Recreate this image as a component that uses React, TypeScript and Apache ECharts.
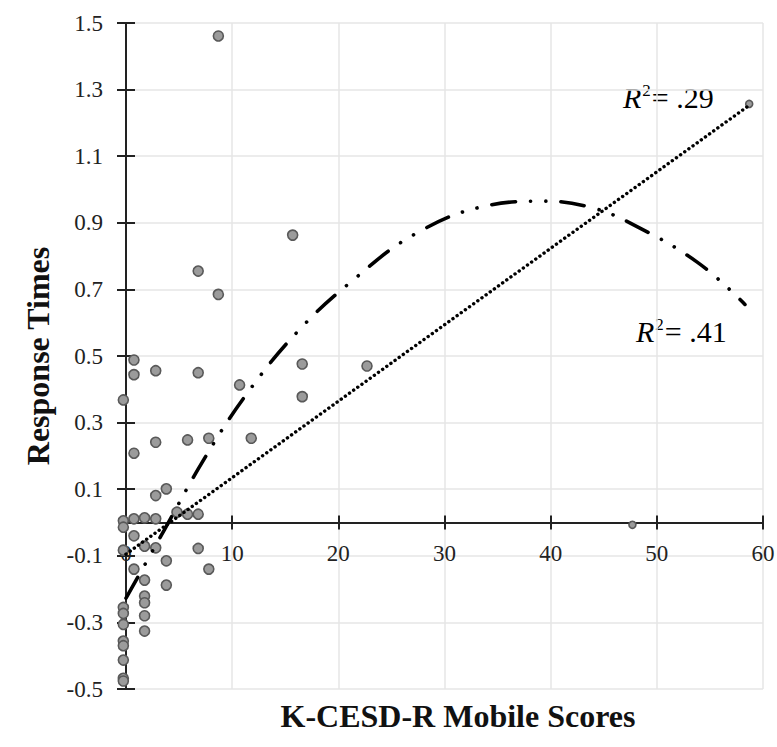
import React, { useEffect, useRef } from "react";
import * as echarts from "echarts";

// Scatter points: K-CESD-R mobile scores (x) vs response times (y)
const scoreX = [
  -0.25, -0.25, -0.25, -0.25, -0.25, -0.25, -0.25, -0.25, -0.25, -0.25, -0.25, -0.25,
  0.75, 0.75, 0.75, 0.75, 0.75, 0.75,
  1.75, 1.75, 1.75, 1.75, 1.75, 1.75, 1.75,
  2.8, 2.8, 2.8, 2.8, 2.8,
  3.8, 3.8, 3.8,
  4.8,
  5.8, 5.8,
  6.8, 6.8, 6.8, 6.8,
  7.8, 7.8,
  8.7, 8.7,
  10.7, 11.8, 15.7, 16.6, 16.6, 22.7, 47.7, 58.7,
];
const responseY = [
  0.368, 0.005, -0.014, -0.083, -0.255, -0.273, -0.306, -0.356, -0.37, -0.413, -0.468, -0.476,
  0.488, 0.444, 0.208, 0.011, -0.04, -0.14,
  0.014, -0.071, -0.173, -0.221, -0.241, -0.28, -0.326,
  0.456, 0.241, 0.081, 0.011, -0.076,
  0.101, -0.115, -0.188,
  0.031,
  0.248, 0.025,
  0.755, 0.45, 0.025, -0.078,
  0.253, -0.14,
  1.461, 0.685,
  0.413, 0.253, 0.863, 0.476, 0.378, 0.47, -0.007, 1.257,
];

// Linear trend
const linearX = [0, 58.8];
const linearY = [-0.095, 1.255];

// Quadratic trend
const quadX = [0, 3.6, 7.2, 11.3, 16.3, 21.5, 27.2, 33.8, 39.4, 43.7, 47.5, 53.8, 58.3];
const quadY = [-0.227, -0.023, 0.182, 0.383, 0.578, 0.731, 0.866, 0.95, 0.965, 0.947, 0.899, 0.782, 0.655];

const xMin = 0;
const xMax = 60;
const xStep = 10;
const yMin = -0.5;
const yMax = 1.5;
const yStep = 0.2;

const xTitle = "K-CESD-R Mobile Scores";
const yTitle = "Response Times";
const linearR2 = ".29";
const quadR2 = ".41";

export default function App() {
  const ref = useRef<HTMLDivElement>(null);

  useEffect(() => {
    if (!ref.current) return;
    const chart = echarts.init(ref.current, null, { renderer: "svg" });
    const font = "'Liberation Serif', 'Times New Roman', serif";
    const axisColor = "#222222";
    const gridColor = "#e6e6e6";

    const H = 747;
    const grid = { left: 126, right: 14, top: 23, bottom: 58 };
    const plotH = H - grid.top - grid.bottom;
    // move the labelled x axis up onto the y = 0 line
    const zeroOffset = -((0 - yMin) / (yMax - yMin)) * plotH;

    const scatterData = scoreX.map((x, i) => [x, responseY[i]]);
    const linearData = linearX.map((x, i) => [x, linearY[i]]);
    const quadData = quadX.map((x, i) => [x, quadY[i]]);

    const baseX = { type: "value", min: xMin, max: xMax, interval: xStep, gridIndex: 0 };
    const baseY = { type: "value", min: yMin, max: yMax, interval: yStep, gridIndex: 0 };

    const r2Rich = {
      i: { fontFamily: font, fontSize: 30, fontStyle: "italic", color: "#333" },
      s: { fontFamily: font, fontSize: 17, color: "#333", verticalAlign: "top", padding: [0, 1, 0, 1] },
      n: { fontFamily: font, fontSize: 30, color: "#333" },
    };

    chart.setOption({
      animation: false,
      backgroundColor: "#ffffff",
      grid: { ...grid, containLabel: false, outerBoundsMode: "none" },
      xAxis: [
        {
          ...baseX,
          position: "bottom",
          offset: zeroOffset,
          axisLine: { show: true, onZero: false, lineStyle: { color: axisColor, width: 2 } },
          axisTick: { show: true, inside: false, length: 7, lineStyle: { color: axisColor, width: 2 } },
          axisLabel: { fontFamily: font, fontSize: 23, color: "#222", margin: 19 },
          splitLine: { show: true, lineStyle: { color: gridColor, width: 1.5 } },
        },
        {
          ...baseX,
          position: "top",
          axisLine: { show: true, onZero: true, lineStyle: { color: axisColor, width: 2 } },
          axisTick: { show: true, inside: false, length: 7, lineStyle: { color: axisColor, width: 2 } },
          axisLabel: { show: false },
          splitLine: { show: false },
        },
      ],
      yAxis: [
        {
          ...baseY,
          position: "left",
          axisLine: { show: true, onZero: false, lineStyle: { color: axisColor, width: 2 } },
          axisTick: { show: true, inside: false, length: 9, lineStyle: { color: axisColor, width: 2 } },
          axisLabel: {
            fontFamily: font,
            fontSize: 23,
            color: "#222",
            margin: 23,
            formatter: (v: number) => v.toFixed(1),
          },
          splitLine: { show: true, lineStyle: { color: gridColor, width: 1.5 } },
          name: yTitle,
          nameLocation: "middle",
          nameGap: 72,
          nameRotate: 90,
          nameTextStyle: { fontFamily: font, fontSize: 32, fontWeight: "bold", color: "#111" },
        },
        {
          ...baseY,
          position: "right",
          axisLine: { show: true, onZero: true, lineStyle: { color: axisColor, width: 2 } },
          axisTick: { show: true, inside: false, length: 9, lineStyle: { color: axisColor, width: 2 } },
          axisLabel: { show: false },
          splitLine: { show: false },
        },
      ],
      series: [
        {
          type: "scatter",
          xAxisIndex: 0,
          yAxisIndex: 0,
          data: scatterData,
          clip: false,
          symbol: "circle",
          symbolSize: (val: number[]) => (val[0] > 40 ? 7 : 10),
          itemStyle: { color: "#9b9b9b", borderColor: "#595959", borderWidth: 1.6, opacity: 1 },
          z: 2,
        },
        {
          type: "line",
          xAxisIndex: 0,
          yAxisIndex: 0,
          data: linearData,
          showSymbol: false,
          symbol: "none",
          lineStyle: { color: "#000", width: 3.4, type: [0.1, 5], cap: "round" },
          z: 3,
        },
        {
          type: "line",
          xAxisIndex: 0,
          yAxisIndex: 0,
          data: quadData,
          smooth: 0.4,
          showSymbol: false,
          symbol: "none",
          lineStyle: { color: "#000", width: 3.6, type: [24, 15, 0.1, 15, 0.1, 15], cap: "round" },
          z: 3,
        },
      ],
      graphic: [
        {
          type: "text",
          x: 458,
          y: 716,
          style: {
            text: xTitle,
            fontFamily: font,
            fontSize: 32,
            fontWeight: "bold",
            fill: "#111",
            align: "center",
            verticalAlign: "middle",
          },
        },
        {
          type: "text",
          x: 623,
          y: 97,
          style: {
            text: "{i|R}{s|2}{n|= " + linearR2 + "}",
            rich: r2Rich,
            verticalAlign: "middle",
            align: "left",
          },
        },
        {
          type: "text",
          x: 636,
          y: 331,
          style: {
            text: "{i|R}{s|2}{n|= " + quadR2 + "}",
            rich: r2Rich,
            verticalAlign: "middle",
            align: "left",
          },
        },
      ],
    });

    return () => chart.dispose();
  }, []);

  return (
    <div
      ref={ref}
      style={{ position: "fixed", left: 0, top: 0, width: 777, height: 747, background: "#fff" }}
    />
  );
}
